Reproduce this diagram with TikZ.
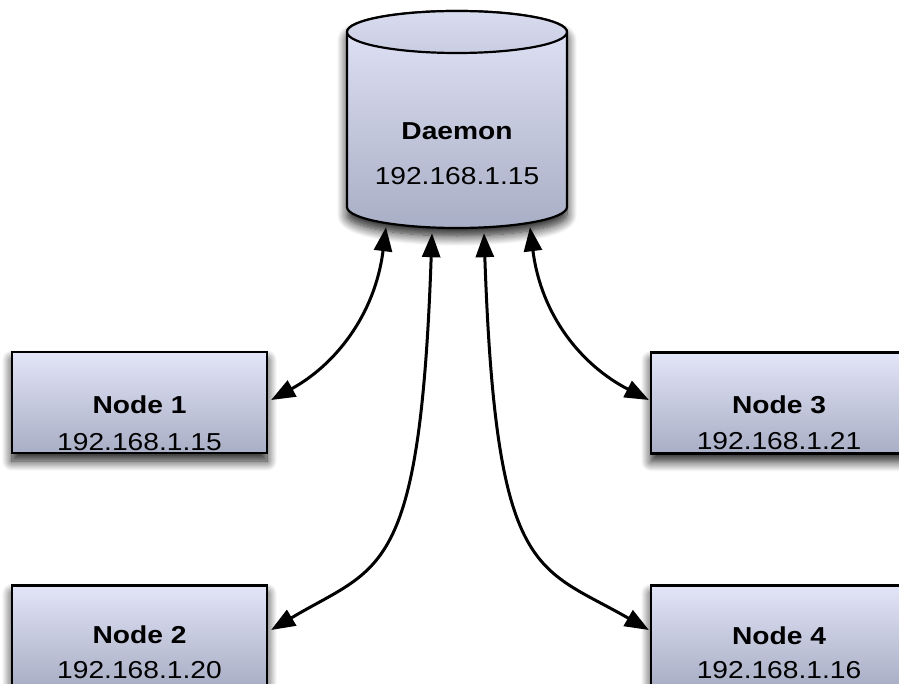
\documentclass[tikz,border=0pt]{standalone}
\usepackage{fontspec}
\setmainfont{Liberation Sans}[FakeStretch=1.15]
\usetikzlibrary{arrows.meta,shadows.blur,calc}
\definecolor{boxtop}{HTML}{E3E5F8}
\definecolor{boxbot}{HTML}{A8AEC5}
\definecolor{captop}{HTML}{D9DCEF}
\definecolor{capbot}{HTML}{C9CDE2}
\begin{document}
\begin{tikzpicture}[x=1pt,y=-1pt,
  softshadow/.style={blur shadow={shadow xshift=0pt, shadow yshift=-8pt,
      shadow blur radius=10pt, shadow blur steps=12, shadow opacity=90}},
  hostbox/.style={draw=black, line width=2.2pt, minimum width=255pt,
      minimum height=101pt, inner sep=0pt, top color=boxtop,
      bottom color=boxbot, softshadow},
  title/.style={font=\bfseries\fontsize{24.5}{28}\selectfont, anchor=base, inner sep=0pt},
  addr/.style={font=\fontsize{24.5}{28}\selectfont, anchor=base, inner sep=0pt},
  link/.style={draw=black, line width=3pt,
      {Triangle[length=24pt,width=18pt,fill=black]}-{Triangle[length=24pt,width=18pt,fill=black]}}
]
\useasboundingbox (0,0) rectangle (899,684);
\clip (0,0) rectangle (899,684);

% daemon cylinder
\path[softshadow, top color=boxtop, bottom color=boxbot, draw=black, line width=2.2pt]
  (347,32) -- (347,207)
  arc[start angle=180, end angle=0, x radius=110, y radius=21]
  -- (567,32)
  arc[start angle=0, end angle=-180, x radius=110, y radius=21] -- cycle;
\draw[line width=2.2pt, top color=captop, bottom color=capbot]
  (457,32) ellipse[x radius=110, y radius=21];
\node[inner sep=0pt, minimum width=220pt, minimum height=218pt] (dmn) at (457,119) {};
\node[title] (dmnname) at (457,140) {Daemon};
\node[addr] (dmnaddr) at (457,185) {192.168.1.15};

% client boxes
\node[hostbox] (n1) at (139.5,402.5) {};
\node[hostbox, minimum width=256pt] (n3) at (779,403) {};
\node[hostbox] (n2) at (139.5,636) {};
\node[hostbox, minimum width=256pt] (n4) at (779,636) {};

\node[title] (t1) at ($(n1.center)+(0,10.5)$) {Node 1};
\node[addr]  (a1) at ($(n1.center)+(0,48)$) {192.168.1.15};
\node[title] (t3) at ($(n3.center)+(0,10)$) {Node 3};
\node[addr]  (a3) at ($(n3.center)+(0,46)$) {192.168.1.21};
\node[title] (t2) at ($(n2.center)+(0,7.5)$) {Node 2};
\node[addr]  (a2) at ($(n2.center)+(0,42.5)$) {192.168.1.20};
\node[title] (t4) at ($(n4.center)+(0,8)$) {Node 4};
\node[addr]  (a4) at ($(n4.center)+(0,42)$) {192.168.1.16};

% connector ends
\coordinate (d1) at ($(dmn.south)+(-71,-1)$);
\coordinate (d2) at ($(dmn.south)+(-25,5)$);
\coordinate (d3) at ($(dmn.south)+(27,5)$);
\coordinate (d4) at ($(dmn.south)+(73,-1)$);
\coordinate (e1) at ($(n1.east)+(3,-2.5)$);
\coordinate (e2) at ($(n2.east)+(3,-6)$);
\coordinate (e3) at ($(n3.west)+(-1,-3)$);
\coordinate (e4) at ($(n4.west)+(-1,-6)$);

\draw[link] (d1) .. controls (375,315) and (335,365) .. (e1);
\draw[link] (d4) .. controls (541,315) and (581,365) .. (e3);
\draw[link] (d2) .. controls (420,580) and (380,565) .. (e2);
\draw[link] (d3) .. controls (496,580) and (536,565) .. (e4);
\end{tikzpicture}
\end{document}
